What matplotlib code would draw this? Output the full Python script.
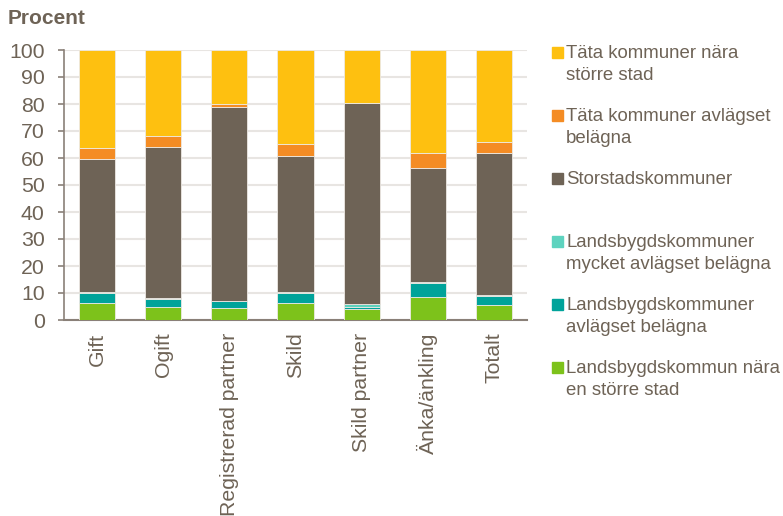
import matplotlib.pyplot as plt
import numpy as np

plt.rcParams['font.family'] = ['Liberation Sans', 'DejaVu Sans']

kategorier = ["Gift", "Ogift", "Registrerad partner", "Skild", "Skild partner",
              "Änka/änkling", "Totalt"]

# andelar i procent, nerifrån och upp i stapeln
landsbygd_nara = [6.4, 4.7, 4.4, 6.2, 4.0, 8.6, 5.6]
landsbygd_avl = [3.5, 3.0, 2.5, 3.7, 0.7, 5.0, 3.3]
landsbygd_mycket_avl = [0.3, 0.4, 0.2, 0.3, 1.1, 0.4, 0.2]
storstad = [49.3, 56.1, 71.9, 50.7, 74.4, 42.2, 52.9]
tata_avl = [4.3, 3.8, 1.1, 4.2, 0.2, 5.5, 4.0]
tata_nara = [36.2, 32.0, 19.9, 34.9, 19.6, 38.3, 34.0]

serier = [
    ("Landsbygdskommun nära\nen större stad", landsbygd_nara, "#7DC21B"),
    ("Landsbygdskommuner\navlägset belägna", landsbygd_avl, "#00A39A"),
    ("Landsbygdskommuner\nmycket avlägset belägna", landsbygd_mycket_avl, "#5ED3BF"),
    ("Storstadskommuner", storstad, "#6E6356"),
    ("Täta kommuner avlägset\nbelägna", tata_avl, "#F48C24"),
    ("Täta kommuner nära\nstörre stad", tata_nara, "#FEC010"),
]

textfarg = "#6E6356"

fig = plt.figure(figsize=(7.83, 5.16), dpi=100)
ax = fig.add_axes([64 / 783, 1 - 320 / 516, 463 / 783, 270 / 516])

x = np.arange(len(kategorier))
botten = np.zeros(len(kategorier))
for namn, varden, farg in serier:
    ax.bar(x, varden, bottom=botten, width=0.545, color=farg,
           edgecolor="#EDE9E4", linewidth=0.6, zorder=3)
    botten += np.array(varden)

ax.set_xlim(-0.5, len(kategorier) - 0.5)
ax.set_ylim(0, 100)
ax.set_yticks(range(0, 101, 10))
ax.set_xticks(x)
ax.set_xticklabels(kategorier, rotation=90, fontsize=15.3, color=textfarg)
ax.tick_params(axis="y", labelsize=15.3, labelcolor=textfarg, color="#8A8078",
               length=4, width=1.2, direction="out", pad=10)
ax.tick_params(axis="x", length=0, pad=9)
ax.grid(axis="y", color="#E8E5E2", linewidth=1.5, zorder=0)

for s in ["top", "right"]:
    ax.spines[s].set_visible(False)
ax.spines["left"].set_color("#8A8078")
ax.spines["bottom"].set_color("#8A8078")
ax.spines["left"].set_linewidth(1.2)
ax.spines["bottom"].set_linewidth(1.5)

fig.text(8 / 783, 1 - 18 / 516, "Procent", fontsize=15, fontweight="bold",
         color=textfarg, va="center", ha="left")

# legend placerad för hand, överst den översta serien
rad_y = [52, 115, 178, 241, 304, 367]
for (namn, varden, farg), y in zip(serier[::-1], rad_y):
    fig.patches.append(plt.Rectangle((552 / 783, 1 - (y + 6) / 516), 11 / 783, 11 / 516,
                                     transform=fig.transFigure, color=farg))
    fig.text(566 / 783, 1 - (y - 7) / 516, namn, fontsize=13.4, color=textfarg,
             va="top", ha="left", linespacing=1.4)

fig.savefig("out.png", dpi=100)
